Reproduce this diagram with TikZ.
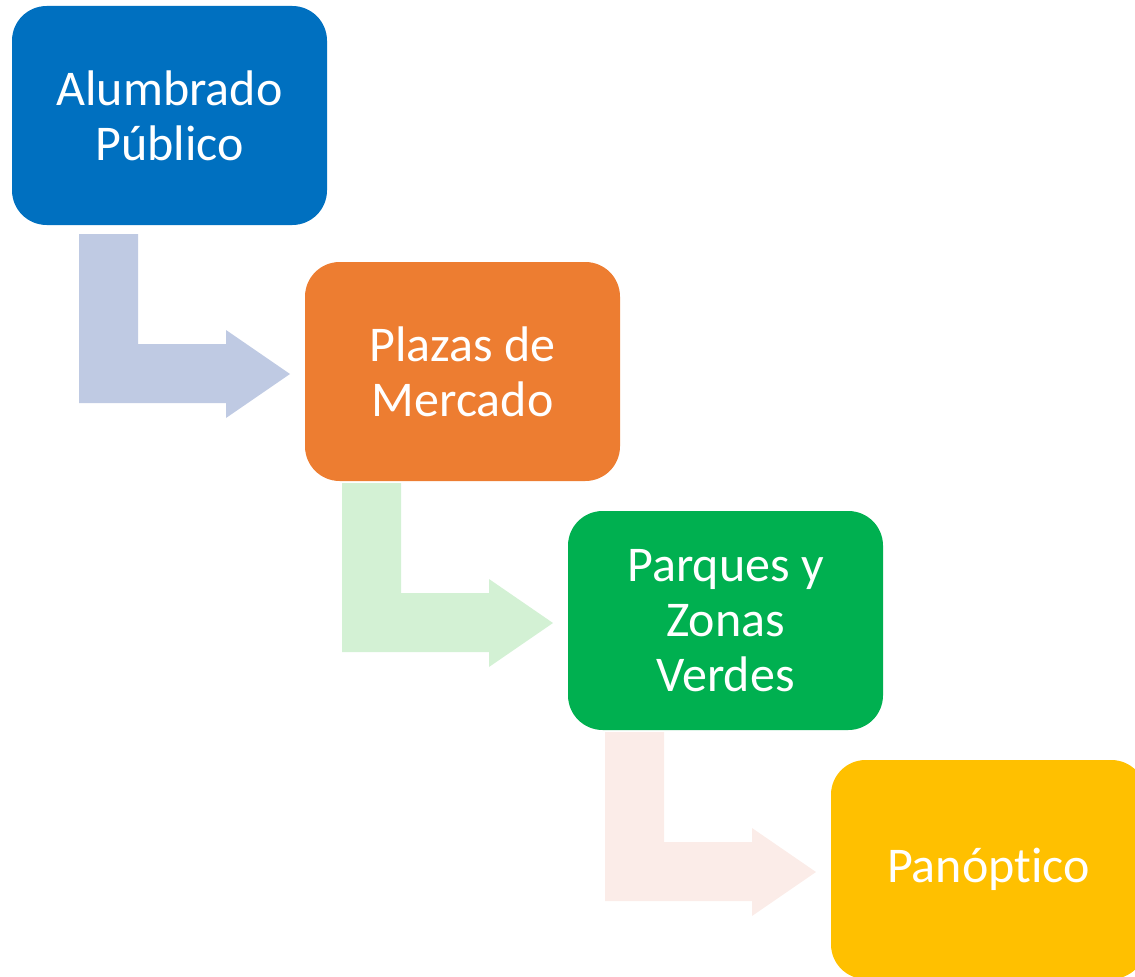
\documentclass[tikz,border=0pt]{standalone}
\usepackage{fontspec}
\setmainfont{Carlito}[Ligatures={NoCommon}]
\definecolor{cblue}{HTML}{0070C0}
\definecolor{corange}{HTML}{ED7D31}
\definecolor{cgreen}{HTML}{00B050}
\definecolor{cyellow}{HTML}{FFC000}
\definecolor{ablue}{HTML}{BFCAE3}
\definecolor{agreen}{HTML}{D3F1D4}
\definecolor{apink}{HTML}{FBECE8}
\tikzset{
  stagebox/.style={draw=none, rounded corners=26pt, minimum width=236.25pt, minimum height=164.25pt,
    inner sep=0pt, text=white, align=center,
    font=\fontsize{37.5}{41.5}\selectfont},
}
\begin{document}
\begin{tikzpicture}[x=0.75pt,y=-0.75pt]
\useasboundingbox (0,0) rectangle (1135,977);
\clip (0,0) rectangle (1135,977);
\node[stagebox, fill=cblue] (b1) at (169.5,115.5) {Alumbrado\\Público};
\node[stagebox, fill=corange] (b2) at (462.5,371.5) {Plazas de\\Mercado};
\node[stagebox, fill=cgreen] (b3) at (725.5,620.5) {Parques y\\Zonas\\Verdes};
\node[stagebox, fill=cyellow] (b4) at (988.5,869.5) {Panóptico};
\foreach \dx/\dy/\col in {0/0/ablue, 263/249/agreen, 526/498/apink}{
  \begin{scope}[shift={(\dx,\dy)}]
    \fill[\col] (79,234) -- (138,234) -- (138,344) -- (226,344) -- (226,330)
      -- (290,374) -- (226,418) -- (226,403) -- (79,403) -- cycle;
  \end{scope}
}
\end{tikzpicture}
\end{document}
